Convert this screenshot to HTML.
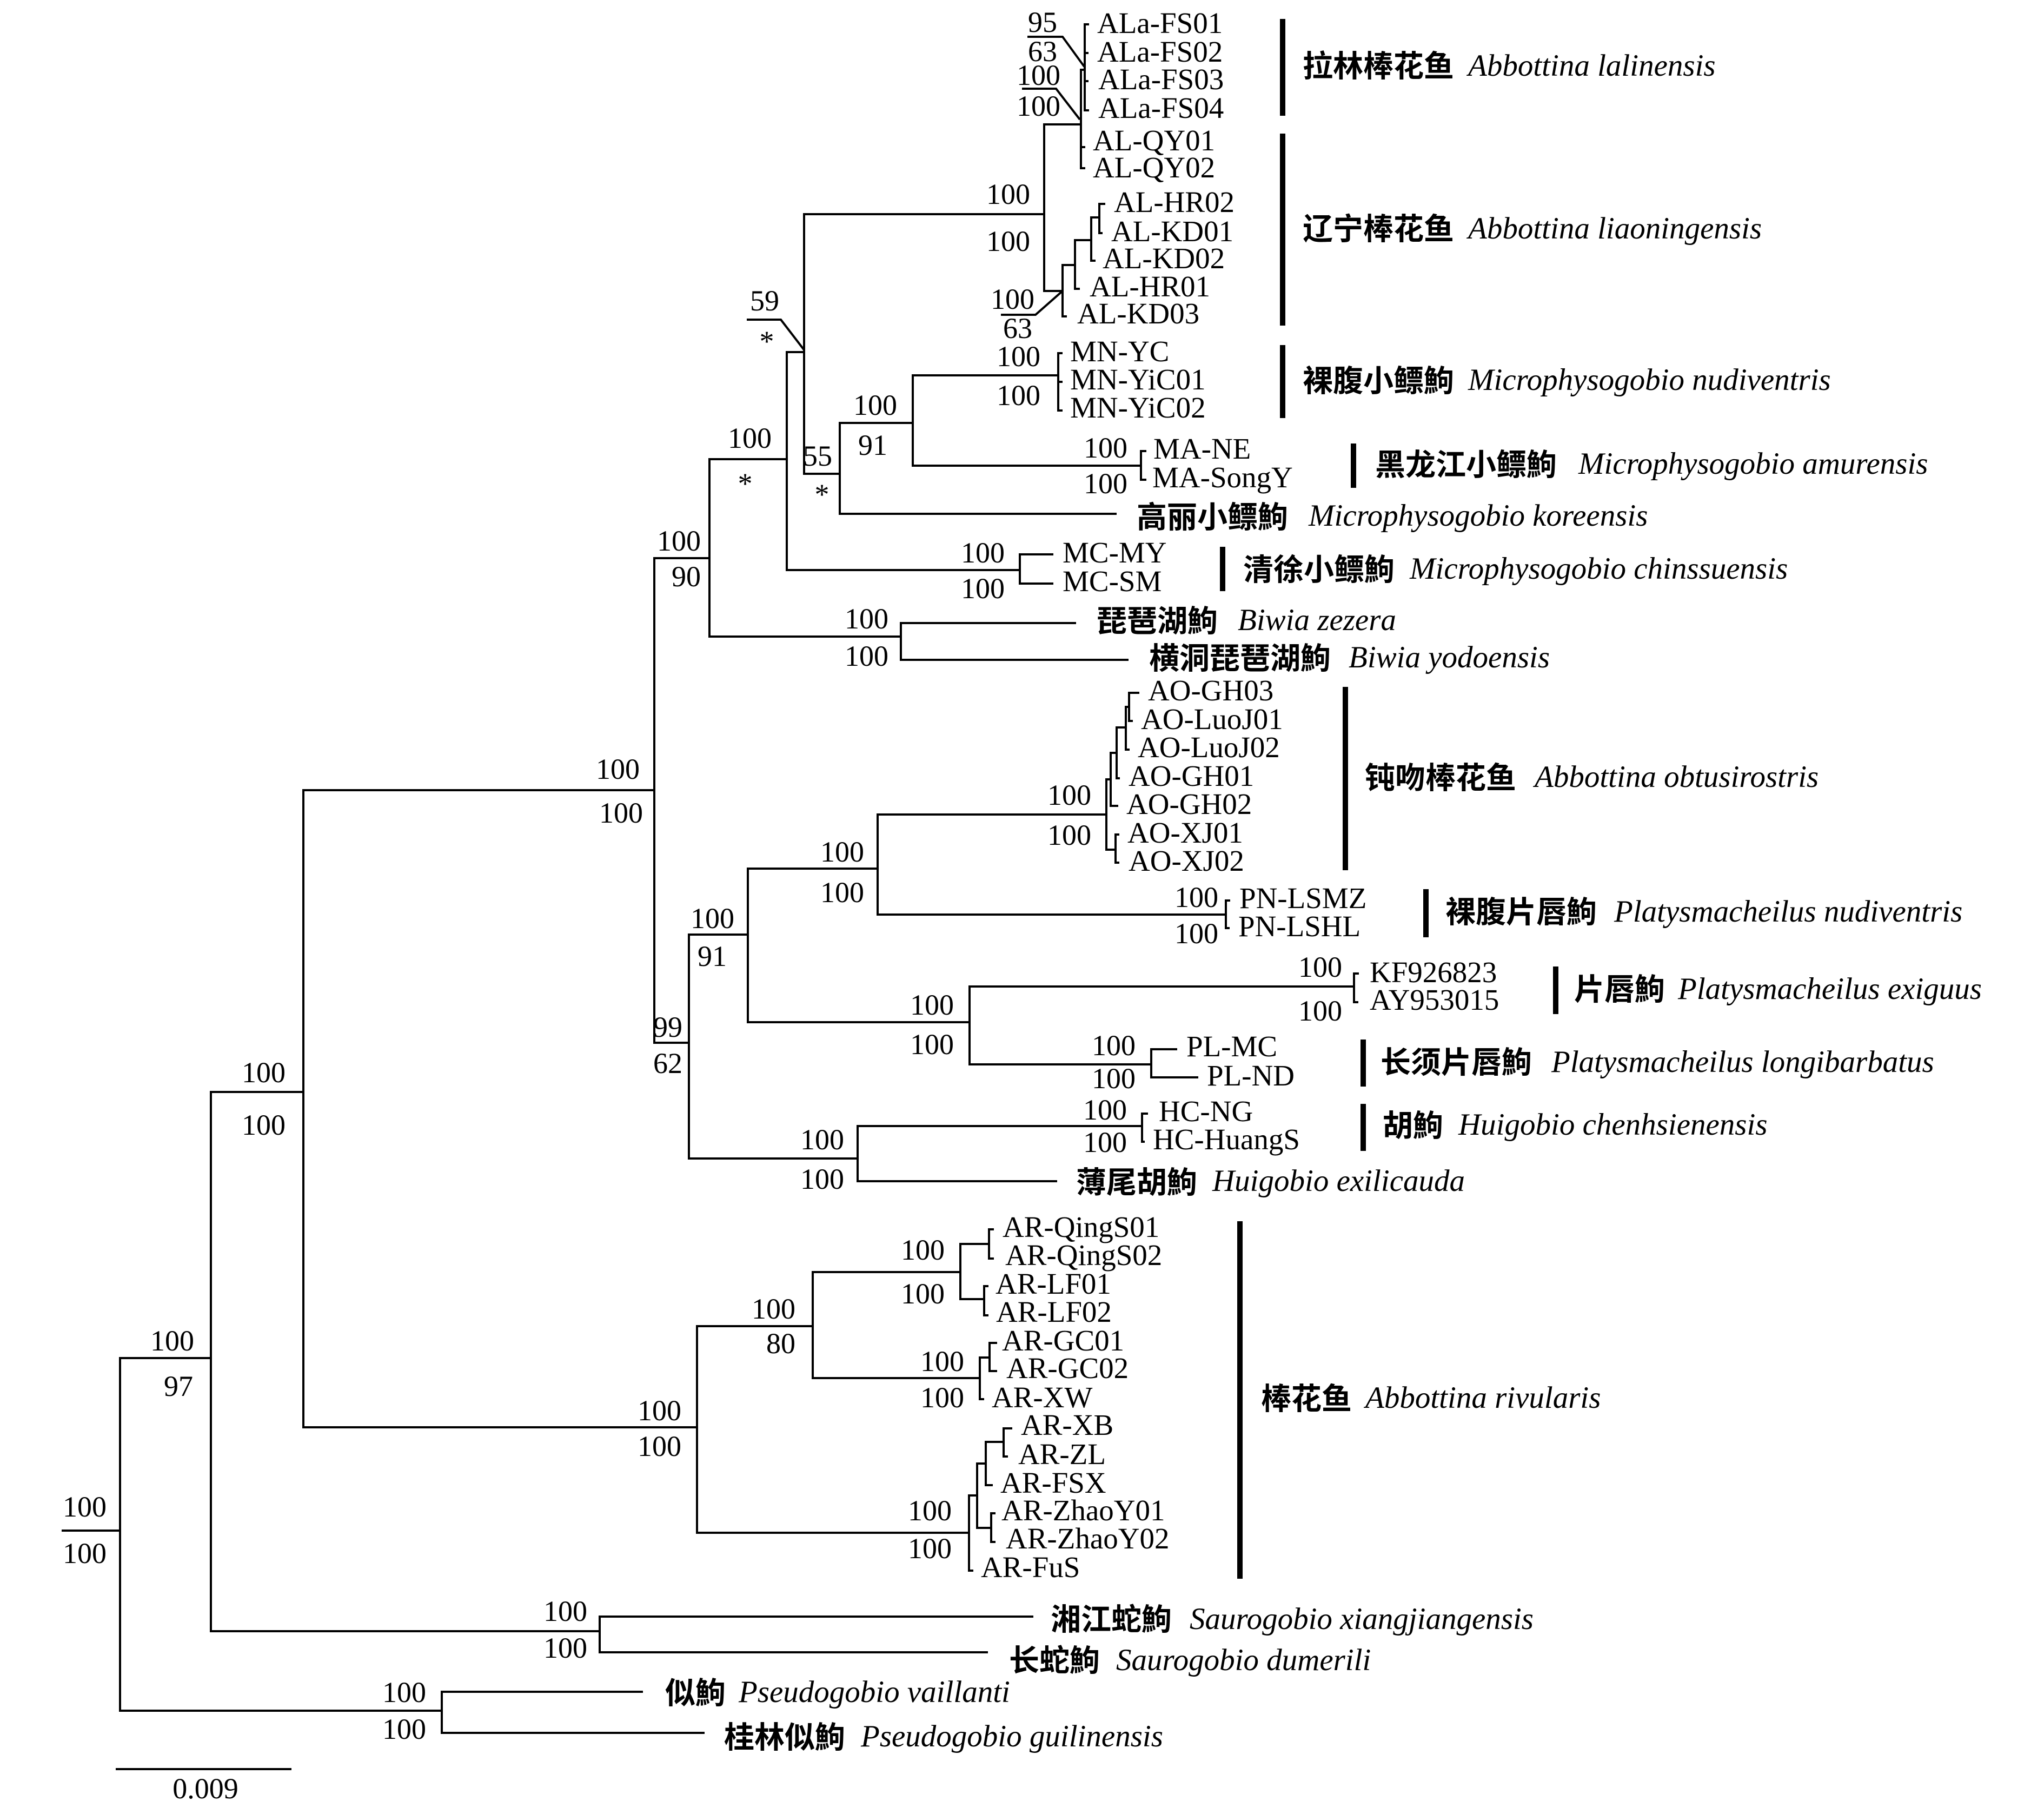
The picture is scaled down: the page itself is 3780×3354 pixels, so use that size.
<!DOCTYPE html>
<html>
<head>
<meta charset="utf-8">
<style>
html,body{margin:0;padding:0;background:#fff;}
svg{display:block;}
.t{font-family:"Liberation Serif","Noto Serif CJK SC",serif;font-size:55px;fill:#000;}
.n{font-family:"Liberation Serif","Noto Serif CJK SC",serif;font-size:54px;fill:#000;text-anchor:end;}
.m{font-family:"Liberation Serif","Noto Serif CJK SC",serif;font-size:54px;fill:#000;text-anchor:middle;}
.c{font-family:"Liberation Sans","Noto Sans CJK SC",sans-serif;font-size:56px;font-weight:bold;fill:#000;}
.i{font-family:"Liberation Serif","Noto Serif CJK SC",serif;font-size:57px;font-style:italic;fill:#000;}
</style>
</head>
<body>
<svg width="3780" height="3354" viewBox="0 0 3780 3354" xmlns="http://www.w3.org/2000/svg">
<rect x="0" y="0" width="3780" height="3354" fill="#fff"/>
<g fill="none" stroke="#000" stroke-width="4" stroke-linecap="square">
<path d="
M116 2830 H222
M222 2511 V3163
M222 2511 H390
M222 3163 H817
M817 3128 V3204
M817 3128 H1187
M817 3204 H1301
M390 2019 V3016
M390 2019 H561
M390 3016 H1109
M1109 2989 V3055
M1109 2989 H1909
M1109 3055 H1825
M561 1461 V2639
M561 1461 H1210
M561 2639 H1289
M1289 2452 V2834
M1289 2452 H1503
M1503 2352 V2548
M1503 2352 H1776
M1776 2300 V2402
M1776 2300 H1829
M1829 2273 V2327
M1829 2273 H1836
M1829 2327 H1836
M1776 2402 H1820
M1820 2378 V2432
M1820 2378 H1826
M1820 2432 H1826
M1503 2548 H1812
M1812 2510 V2587
M1812 2510 H1830
M1830 2483 V2535
M1830 2483 H1842
M1830 2535 H1842
M1812 2587 H1818
M1289 2834 H1792
M1792 2765 V2904
M1792 2765 H1807
M1807 2706 V2825
M1807 2706 H1823
M1823 2666 V2746
M1823 2666 H1856
M1856 2641 V2693
M1856 2641 H1870
M1856 2693 H1862
M1823 2746 H1834
M1807 2825 H1833
M1833 2798 V2851
M1833 2798 H1839
M1833 2851 H1839
M1792 2904 H1798
M1210 1032 V1928
M1210 1032 H1312
M1210 1928 H1274
M1312 849 V1177
M1312 849 H1455
M1312 1177 H1666
M1666 1152 V1220
M1666 1152 H1988
M1666 1220 H2085
M1455 651 V1054
M1455 651 H1487
M1455 1054 H1886
M1886 1025 V1079
M1886 1025 H1946
M1886 1079 H1946
M1487 396 V876
M1487 396 H1931
M1487 876 H1553
M1553 782 V950
M1553 782 H1688
M1553 950 H2063
M1688 694 V861
M1688 694 H1957
M1688 861 H2110
M1957 653 V759
M1957 653 H1963
M1957 706 H1963
M1957 759 H1963
M2110 834 V887
M2110 834 H2118
M2110 887 H2118
M1931 230 V538
M1931 230 H1999
M1931 538 H1965
M1999 129 V311
M1999 129 H2006
M1999 272 H2005
M1999 311 H2005
M2006 45 V204
M2006 45 H2012
M2006 98 H2011
M2006 150 H2011
M2006 204 H2012
M1965 490 V585
M1965 490 H1988
M1965 585 H1971
M1988 444 V534
M1988 444 H2018
M1988 534 H1995
M2018 402 V482
M2018 402 H2033
M2018 482 H2024
M2033 377 V431
M2033 377 H2042
M2033 431 H2037
M1274 1728 V2142
M1274 1728 H1383
M1274 2142 H1586
M1383 1606 V1890
M1383 1606 H1623
M1383 1890 H1793
M1623 1506 V1691
M1623 1506 H2046
M1623 1691 H2267
M2046 1441 V1571
M2046 1441 H2054
M2046 1571 H2063
M2054 1392 V1490
M2054 1392 H2065
M2054 1490 H2066
M2065 1345 V1439
M2065 1345 H2082
M2065 1439 H2069
M2082 1307 V1386
M2082 1307 H2088
M2082 1386 H2087
M2088 1281 V1333
M2088 1281 H2105
M2088 1333 H2093
M2063 1543 V1595
M2063 1543 H2068
M2063 1595 H2068
M2267 1665 V1716
M2267 1665 H2273
M2267 1716 H2272
M1793 1824 V1968
M1793 1824 H2504
M1793 1968 H2129
M2504 1800 V1853
M2504 1800 H2511
M2504 1853 H2510
M2129 1940 V1992
M2129 1940 H2175
M2129 1992 H2214
M1586 2082 V2184
M1586 2082 H2112
M1586 2184 H1953
M2112 2059 V2111
M2112 2059 H2121
M2112 2111 H2115
M216 3271 H537
"/>
<path stroke-linecap="butt" stroke-linejoin="miter" d="
M1900 68 H1965 L2005 123
M1890 164 H1953 L1997 221
M1851 582 H1915 L1965 538
M1381 591 H1444 L1487 647
"/>
</g>

<!-- bars -->
<g fill="#000">
<rect x="2367" y="35" width="10" height="179"/>
<rect x="2367" y="247" width="10" height="355"/>
<rect x="2367" y="638" width="10" height="135"/>
<rect x="2498" y="820" width="10" height="82"/>
<rect x="2256" y="1011" width="10" height="82"/>
<rect x="2483" y="1270" width="10" height="339"/>
<rect x="2632" y="1644" width="10" height="89"/>
<rect x="2872" y="1787" width="10" height="88"/>
<rect x="2516" y="1922" width="10" height="87"/>
<rect x="2516" y="2041" width="10" height="87"/>
<rect x="2288" y="2258" width="10" height="661"/>
</g>

<!-- taxa labels -->
<g class="t">
<text x="2029" y="61">ALa-FS01</text>
<text x="2029" y="114">ALa-FS02</text>
<text x="2031" y="165">ALa-FS03</text>
<text x="2031" y="218">ALa-FS04</text>
<text x="2021" y="278">AL-QY01</text>
<text x="2021" y="328">AL-QY02</text>
<text x="2060" y="392">AL-HR02</text>
<text x="2055" y="446">AL-KD01</text>
<text x="2039" y="496">AL-KD02</text>
<text x="2015" y="548">AL-HR01</text>
<text x="1992" y="598">AL-KD03</text>
<text x="1979" y="668">MN-YC</text>
<text x="1979" y="720">MN-YiC01</text>
<text x="1979" y="772">MN-YiC02</text>
<text x="2133" y="848">MA-NE</text>
<text x="2131" y="901">MA-SongY</text>
<text x="1965" y="1040">MC-MY</text>
<text x="1965" y="1093">MC-SM</text>
<text x="2123" y="1295">AO-GH03</text>
<text x="2110" y="1348">AO-LuoJ01</text>
<text x="2104" y="1400">AO-LuoJ02</text>
<text x="2087" y="1453">AO-GH01</text>
<text x="2083" y="1505">AO-GH02</text>
<text x="2085" y="1558">AO-XJ01</text>
<text x="2087" y="1610">AO-XJ02</text>
<text x="2292" y="1679">PN-LSMZ</text>
<text x="2290" y="1731">PN-LSHL</text>
<text x="2533" y="1816">KF926823</text>
<text x="2533" y="1867">AY953015</text>
<text x="2194" y="1953">PL-MC</text>
<text x="2232" y="2007">PL-ND</text>
<text x="2143" y="2073">HC-NG</text>
<text x="2132" y="2125">HC-HuangS</text>
<text x="1854" y="2287">AR-QingS01</text>
<text x="1859" y="2339">AR-QingS02</text>
<text x="1841" y="2392">AR-LF01</text>
<text x="1842" y="2444">AR-LF02</text>
<text x="1853" y="2497">AR-GC01</text>
<text x="1861" y="2548">AR-GC02</text>
<text x="1834" y="2602">AR-XW</text>
<text x="1888" y="2653">AR-XB</text>
<text x="1883" y="2707">AR-ZL</text>
<text x="1850" y="2760">AR-FSX</text>
<text x="1852" y="2811">AR-ZhaoY01</text>
<text x="1860" y="2863">AR-ZhaoY02</text>
<text x="1814" y="2916">AR-FuS</text>
</g>

<!-- support values -->
<g class="n">
<text x="1955" y="59">95</text>
<text x="1955" y="113">63</text>
<text x="1961" y="157">100</text>
<text x="1961" y="214">100</text>
<text x="1905" y="377">100</text>
<text x="1905" y="464">100</text>
<text x="1913" y="571">100</text>
<text x="1909" y="625">63</text>
<text x="1441" y="574">59</text>
<text x="1427" y="828">100</text>
<text x="1539" y="861">55</text>
<text x="1659" y="767">100</text>
<text x="1641" y="841">91</text>
<text x="1924" y="677">100</text>
<text x="1924" y="749">100</text>
<text x="2085" y="846">100</text>
<text x="2085" y="912">100</text>
<text x="1858" y="1040">100</text>
<text x="1858" y="1106">100</text>
<text x="1643" y="1162">100</text>
<text x="1643" y="1231">100</text>
<text x="1296" y="1018">100</text>
<text x="1296" y="1084">90</text>
<text x="1183" y="1440">100</text>
<text x="1189" y="1521">100</text>
<text x="1262" y="1917">99</text>
<text x="1262" y="1984">62</text>
<text x="1358" y="1716">100</text>
<text x="1344" y="1786">91</text>
<text x="1598" y="1593">100</text>
<text x="1598" y="1668">100</text>
<text x="2018" y="1488">100</text>
<text x="2018" y="1562">100</text>
<text x="2253" y="1677">100</text>
<text x="2253" y="1744">100</text>
<text x="1764" y="1876">100</text>
<text x="1764" y="1949">100</text>
<text x="2482" y="1806">100</text>
<text x="2482" y="1887">100</text>
<text x="2100" y="1951">100</text>
<text x="2100" y="2012">100</text>
<text x="2084" y="2070">100</text>
<text x="2084" y="2130">100</text>
<text x="1561" y="2125">100</text>
<text x="1561" y="2198">100</text>
<text x="1260" y="2626">100</text>
<text x="1260" y="2692">100</text>
<text x="1471" y="2438">100</text>
<text x="1471" y="2502">80</text>
<text x="1747" y="2329">100</text>
<text x="1747" y="2410">100</text>
<text x="1783" y="2535">100</text>
<text x="1783" y="2602">100</text>
<text x="1760" y="2811">100</text>
<text x="1760" y="2881">100</text>
<text x="528" y="2001">100</text>
<text x="528" y="2098">100</text>
<text x="359" y="2497">100</text>
<text x="357" y="2581">97</text>
<text x="197" y="2804">100</text>
<text x="197" y="2890">100</text>
<text x="1086" y="2997">100</text>
<text x="1086" y="3065">100</text>
<text x="788" y="3147">100</text>
<text x="788" y="3215">100</text>
</g>
<g class="m">
<text x="1418" y="649">*</text>
<text x="1378" y="912">*</text>
<text x="1520" y="932">*</text>
<text x="380" y="3325">0.009</text>
</g>

<!-- species labels -->
<text class="c" x="2409" y="142">拉林棒花鱼</text><text class="i" x="2715" y="140">Abbottina lalinensis</text>
<text class="c" x="2409" y="443">辽宁棒花鱼</text><text class="i" x="2715" y="441">Abbottina liaoningensis</text>
<text class="c" x="2409" y="724">裸腹小鳔鮈</text><text class="i" x="2715" y="721">Microphysogobio nudiventris</text>
<text class="c" x="2543" y="879">黑龙江小鳔鮈</text><text class="i" x="2919" y="876">Microphysogobio amurensis</text>
<text class="c" x="2102" y="976">高丽小鳔鮈</text><text class="i" x="2420" y="972">Microphysogobio koreensis</text>
<text class="c" x="2299" y="1073">清徐小鳔鮈</text><text class="i" x="2607" y="1070">Microphysogobio chinssuensis</text>
<text class="c" x="2028" y="1168">琵琶湖鮈</text><text class="i" x="2289" y="1165">Biwia zezera</text>
<text class="c" x="2125" y="1237">横洞琵琶湖鮈</text><text class="i" x="2494" y="1234">Biwia yodoensis</text>
<text class="c" x="2524" y="1458">钝吻棒花鱼</text><text class="i" x="2838" y="1455">Abbottina obtusirostris</text>
<text class="c" x="2673" y="1706">裸腹片唇鮈</text><text class="i" x="2985" y="1704">Platysmacheilus nudiventris</text>
<text class="c" x="2911" y="1849">片唇鮈</text><text class="i" x="3103" y="1847">Platysmacheilus exiguus</text>
<text class="c" x="2553" y="1984">长须片唇鮈</text><text class="i" x="2869" y="1982">Platysmacheilus longibarbatus</text>
<text class="c" x="2557" y="2101">胡鮈</text><text class="i" x="2697" y="2098">Huigobio chenhsienensis</text>
<text class="c" x="1990" y="2206">薄尾胡鮈</text><text class="i" x="2242" y="2202">Huigobio exilicauda</text>
<text class="c" x="2332" y="2606">棒花鱼</text><text class="i" x="2525" y="2603">Abbottina rivularis</text>
<text class="c" x="1943" y="3014">湘江蛇鮈</text><text class="i" x="2200" y="3012">Saurogobio xiangjiangensis</text>
<text class="c" x="1866" y="3090">长蛇鮈</text><text class="i" x="2064" y="3088">Saurogobio dumerili</text>
<text class="c" x="1230" y="3150">似鮈</text><text class="i" x="1366" y="3147">Pseudogobio vaillanti</text>
<text class="c" x="1339" y="3232">桂林似鮈</text><text class="i" x="1592" y="3229">Pseudogobio guilinensis</text>
</svg>
</body>
</html>
